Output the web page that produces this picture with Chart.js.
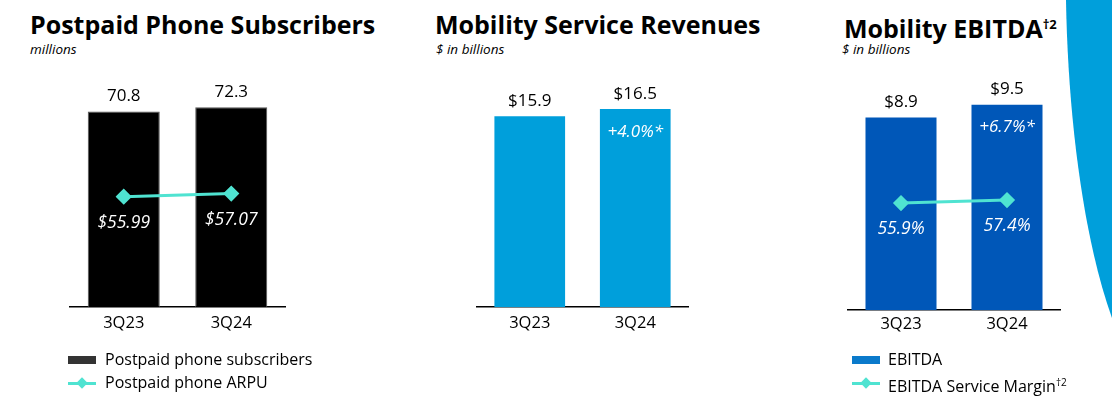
<!DOCTYPE html>
<html>
<head>
<meta charset="utf-8">
<script src="https://cdn.jsdelivr.net/npm/chart.js@4.4.0/dist/chart.umd.min.js"></script>
<style>
  body { margin: 0; width: 1112px; height: 411px; background: #fff; position: relative; overflow: hidden; font-family: "Open Sans", sans-serif; color: #000; }
  .title { position: absolute; font-weight: bold; font-size: 25px; white-space: nowrap; line-height: 30px; }
  .title sup { font-size: 13px; vertical-align: 9px; }
  .sub { position: absolute; font-style: italic; font-size: 13.5px; white-space: nowrap; line-height: 16px; }
  .wrap { position: absolute; top: 60px; height: 290px; width: 250px; }
  .leg { position: absolute; font-size: 16px; white-space: nowrap; line-height: 20px; }
  .leg sup { font-size: 10px; vertical-align: 6px; }
  .sw { position: absolute; width: 28px; height: 8px; }
  .ln { position: absolute; width: 28px; height: 3px; background: #4fe3d1; }
  .dm { position: absolute; width: 8px; height: 8px; background: #4fe3d1; transform: rotate(45deg); }
  svg { position: absolute; left: 0; top: 0; }
</style>
</head>
<body>
<svg width="1112" height="411"><path d="M1066,0 C1068,120 1084,240 1112,318 L1112,0 Z" fill="#009fdb"/></svg>

<div class="title" style="left:30px; top:9px;">Postpaid Phone Subscribers</div>
<div class="sub" style="left:30px; top:41px;">millions</div>
<div class="title" style="left:435px; top:9px;">Mobility Service Revenues</div>
<div class="sub" style="left:436px; top:41px;">$ in billions</div>
<div class="title" style="left:844px; top:9px;">Mobility EBITDA<sup>†2</sup></div>
<div class="sub" style="left:842px; top:41px;">$ in billions</div>

<div class="wrap" style="left:50px;"><canvas id="c1"></canvas></div>
<div class="wrap" style="left:455px;"><canvas id="c2"></canvas></div>
<div class="wrap" style="left:830px;"><canvas id="c3"></canvas></div>

<div class="sw" style="left:68px; top:356px; background:#333;"></div>
<div class="leg" style="left:105px; top:349px;">Postpaid phone subscribers</div>
<div class="ln" style="left:68px; top:382px;"></div>
<div class="dm" style="left:78px; top:379px;"></div>
<div class="leg" style="left:105px; top:372px;">Postpaid phone ARPU</div>

<div class="sw" style="left:852px; top:356px; background:#0a7acb;"></div>
<div class="leg" style="left:888px; top:349px;">EBITDA</div>
<div class="ln" style="left:852px; top:382px;"></div>
<div class="dm" style="left:862px; top:379px;"></div>
<div class="leg" style="left:888px; top:372px;">EBITDA Service Margin<sup>†2</sup></div>

<script>
const quarters = ['3Q23', '3Q24'];
const subscribers = [70.8, 72.3];
const arpu = [55.99, 57.07];
const serviceRevenues = [15.9, 16.5];
const revenueGrowth = [null, '+4.0%*'];
const ebitda = [8.9, 9.5];
const ebitdaGrowth = [null, '+6.7%*'];
const ebitdaMargin = [55.9, 57.4];

const lineColor = '#4fe3d1';
const font = '"Open Sans"';

// labels above bars, inside bars and under line points
const valueLabels = {
  id: 'valueLabels',
  afterDatasetsDraw(chart, args, opts) {
    const ctx = chart.ctx;
    ctx.save();
    ctx.textAlign = 'center';
    ctx.textBaseline = 'middle';
    const bars = chart.getDatasetMeta(0).data;
    bars.forEach((bar, i) => {
      ctx.fillStyle = '#000';
      ctx.font = '17px ' + font;
      ctx.fillText(opts.top[i], bar.x, bar.y - 15);
      if (opts.inside && opts.inside[i]) {
        ctx.fillStyle = '#fff';
        ctx.font = 'italic 17px ' + font;
        ctx.fillText(opts.inside[i], bar.x, bar.y + 23);
      }
    });
    if (chart.data.datasets.length > 1) {
      const pts = chart.getDatasetMeta(1).data;
      pts.forEach((p, i) => {
        ctx.fillStyle = '#fff';
        ctx.font = 'italic 17.5px ' + font;
        ctx.fillText(opts.under[i], p.x, p.y + 26);
      });
    }
    ctx.restore();
  }
};

function makeChart(id, cfg) {
  const datasets = [{
    type: 'bar',
    data: cfg.bars,
    backgroundColor: cfg.color,
    borderColor: cfg.border || cfg.color,
    borderWidth: cfg.border ? 1 : 0,
    categoryPercentage: 1,
    barPercentage: 0.67,
    yAxisID: 'y',
    order: 2
  }];
  if (cfg.line) {
    datasets.push({
      type: 'line',
      data: cfg.line,
      borderColor: lineColor,
      backgroundColor: lineColor,
      borderWidth: 3,
      pointStyle: 'rectRot',
      pointRadius: 6,
      yAxisID: 'y2',
      order: 1
    });
  }
  new Chart(document.getElementById(id), {
    data: { labels: quarters, datasets: datasets },
    options: {
      responsive: true,
      maintainAspectRatio: false,
      animation: false,
      layout: { padding: cfg.padding },
      plugins: {
        legend: { display: false },
        tooltip: { enabled: false },
        valueLabels: cfg.labels
      },
      scales: {
        x: {
          grid: { display: false, drawTicks: false },
          border: { display: true, color: '#000', width: 1.5 },
          ticks: { color: '#000', font: { family: 'Open Sans', size: 16.5 }, padding: cfg.tickPad }
        },
        y: { display: false, min: 0, max: cfg.yMax },
        y2: { display: false, min: cfg.y2 ? cfg.y2[0] : 0, max: cfg.y2 ? cfg.y2[1] : 1 }
      }
    },
    plugins: [valueLabels]
  });
}

makeChart('c1', {
  bars: subscribers, color: '#000', border: '#555', line: arpu,
  yMax: 80, y2: [16.4, 95.6],
  padding: { left: 20, right: 15, top: 26, bottom: 11 }, tickPad: 6,
  labels: { top: subscribers.map(v => v.toFixed(1)), under: arpu.map(v => '$' + v.toFixed(2)) }
});
makeChart('c2', {
  bars: serviceRevenues, color: '#009fdb',
  yMax: 19,
  padding: { left: 22, right: 17, top: 19, bottom: 11 }, tickPad: 6,
  labels: { top: serviceRevenues.map(v => '$' + v.toFixed(1)), inside: revenueGrowth }
});
makeChart('c3', {
  bars: ebitda, color: '#0057b8', line: ebitdaMargin,
  yMax: 10.5, y2: [2.4, 115.9],
  padding: { left: 18, right: 20, top: 23, bottom: 12 }, tickPad: 4,
  labels: { top: ebitda.map(v => '$' + v.toFixed(1)), inside: ebitdaGrowth, under: ebitdaMargin.map(v => v.toFixed(1) + '%') }
});
</script>
</body>
</html>
